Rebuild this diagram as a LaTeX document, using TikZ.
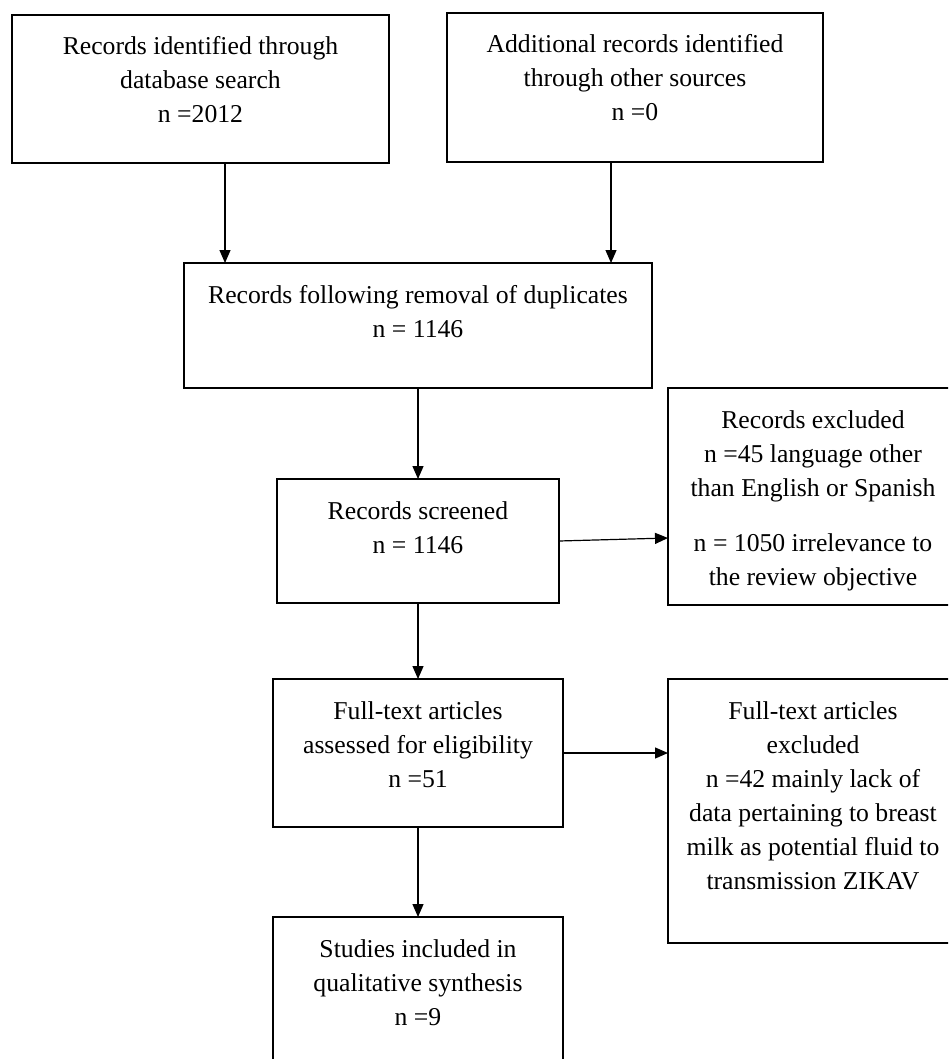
\documentclass[tikz,border=0pt]{standalone}
\usepackage{fontspec}
\setmainfont{Liberation Serif}
\usetikzlibrary{arrows.meta}
\newcommand\bxt[3]{\parbox[c][#1][t]{#2}{\fontsize{25.7pt}{34pt}\selectfont\centering\rule{0pt}{40pt}#3\par}}
\tikzset{
  bx/.style={draw=black, line width=1.2pt, inner sep=0pt, outer sep=0pt, anchor=north west},
  arr/.style={draw=black, line width=1.2pt, -{Triangle[length=13pt,width=11pt]}}
}
\begin{document}
\begin{tikzpicture}[x=1pt,y=-1pt]
\useasboundingbox (0,0) rectangle (948,1059);
\clip (0,0) rectangle (948,1059);
\node[bx] (b1) at (12,15) {\bxt{148pt}{377pt}{Records identified through\\database search\\n =2012}};
\node[bx] (b2) at (447,13) {\bxt{149pt}{376pt}{Additional records identified\\through other sources\\n =0}};
\node[bx] (b3) at (184,263) {\bxt{125pt}{468pt}{Records following removal of duplicates\\n = 1146}};
\node[bx] (b4) at (277,479) {\bxt{124pt}{282pt}{Records screened\\n = 1146}};
\node[bx] (e1) at (668,388) {\bxt{217pt}{290pt}{Records excluded\\n =45 language other\\than English or Spanish\\[21pt]n = 1050 irrelevance to\\the review objective}};
\node[bx] (b5) at (273,679) {\bxt{148pt}{290pt}{Full-text articles\\assessed for eligibility\\n =51}};
\node[bx] (e2) at (668,679) {\bxt{264pt}{290pt}{Full-text articles\\excluded\\n =42 mainly lack of\\data pertaining to breast\\milk as potential fluid to\\transmission ZIKAV}};
\node[bx] (b6) at (273,917) {\bxt{148pt}{290pt}{Studies included in\\qualitative synthesis\\n =9}};
\draw[arr] ([xshift=24.5pt]b1.south) coordinate (s1) -- (s1 |- b3.north);
\draw[arr] ([xshift=-24pt]b2.south) coordinate (s2) -- (s2 |- b3.north);
\draw[arr] (b3.south) -- (b4.north);
\draw[arr] (b4.east) -- ([yshift=-41.5pt]e1.west);
\draw[arr] (b4.south) -- (b5.north);
\draw[arr] (b5.east) -- (b5.east -| e2.west);
\draw[arr] (b5.south) -- (b6.north);
\end{tikzpicture}
\end{document}
